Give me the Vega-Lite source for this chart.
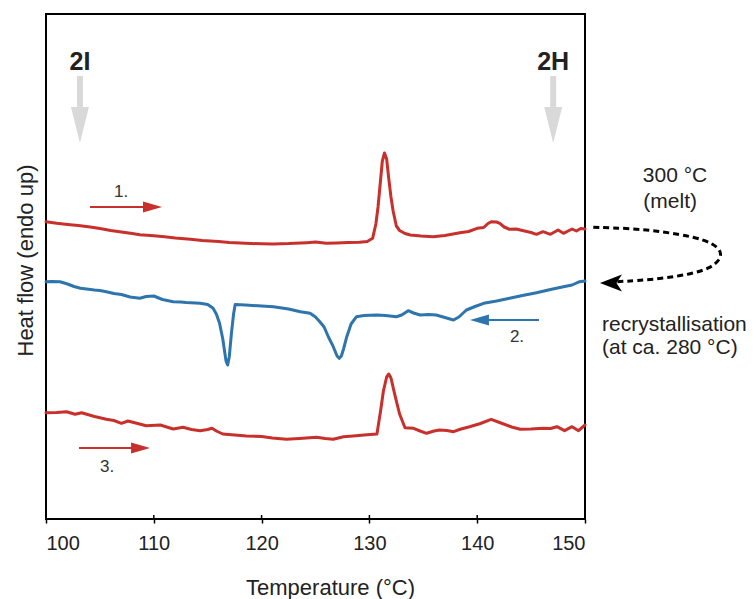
{
  "$schema": "https://vega.github.io/schema/vega-lite/v6.json",
  "autosize": "none",
  "width": 539,
  "height": 505,
  "padding": {"left": 46, "top": 14, "right": 168, "bottom": 80},
  "background": "white",
  "config": {
    "font": "Liberation Sans",
    "view": {"stroke": "#000", "strokeWidth": 2}
  },
  "datasets": {
    "curves": [
      {"s":"1","T":100,"v":297.3},{"s":"1","T":101,"v":295.8},{"s":"1","T":102,"v":294.6},{"s":"1","T":103,"v":293.5},{"s":"1","T":104.1,"v":292},{"s":"1","T":105,"v":290.5},{"s":"1","T":106,"v":288.5},{"s":"1","T":107,"v":287},{"s":"1","T":108,"v":285.5},{"s":"1","T":108.7,"v":284.3},{"s":"1","T":110,"v":283.2},{"s":"1","T":111,"v":282.2},{"s":"1","T":112,"v":281},{"s":"1","T":113.4,"v":279.7},{"s":"1","T":114.5,"v":278.6},{"s":"1","T":116,"v":277.5},{"s":"1","T":117,"v":276.6},{"s":"1","T":118,"v":276},{"s":"1","T":119,"v":275.5},{"s":"1","T":120,"v":275.2},{"s":"1","T":121.1,"v":275},{"s":"1","T":122.5,"v":275.4},{"s":"1","T":124.2,"v":276.3},{"s":"1","T":125,"v":276.9},{"s":"1","T":126,"v":275.7},{"s":"1","T":127,"v":276},{"s":"1","T":128,"v":276.4},{"s":"1","T":129.1,"v":276.7},{"s":"1","T":129.8,"v":277.5},{"s":"1","T":130.3,"v":280.7},{"s":"1","T":130.6,"v":295},{"s":"1","T":130.8,"v":312},{"s":"1","T":131.0,"v":335},{"s":"1","T":131.2,"v":358},{"s":"1","T":131.4,"v":366},{"s":"1","T":131.6,"v":360},{"s":"1","T":131.8,"v":340},{"s":"1","T":132.0,"v":322},{"s":"1","T":132.2,"v":308},{"s":"1","T":132.5,"v":293},{"s":"1","T":132.8,"v":288.5},{"s":"1","T":133.3,"v":285.5},{"s":"1","T":133.8,"v":284},{"s":"1","T":134.8,"v":283},{"s":"1","T":135.9,"v":282.3},{"s":"1","T":137,"v":283.5},{"s":"1","T":138.4,"v":286.3},{"s":"1","T":139.2,"v":287.5},{"s":"1","T":140,"v":290.7},{"s":"1","T":140.6,"v":291.5},{"s":"1","T":141.0,"v":295.5},{"s":"1","T":141.3,"v":297.3},{"s":"1","T":141.8,"v":297},{"s":"1","T":142.1,"v":295.7},{"s":"1","T":142.5,"v":292},{"s":"1","T":143,"v":289.7},{"s":"1","T":143.6,"v":290},{"s":"1","T":144.3,"v":288.3},{"s":"1","T":145,"v":286.5},{"s":"1","T":145.5,"v":284.7},{"s":"1","T":146.1,"v":287.3},{"s":"1","T":146.8,"v":284.7},{"s":"1","T":147.5,"v":289},{"s":"1","T":148,"v":285.7},{"s":"1","T":148.8,"v":290},{"s":"1","T":149.2,"v":288},{"s":"1","T":149.6,"v":290.5},{"s":"1","T":150,"v":290},
      {"s":"2","T":100,"v":237.3},{"s":"2","T":100.5,"v":237.5},{"s":"2","T":101.3,"v":237.3},{"s":"2","T":102,"v":235},{"s":"2","T":102.6,"v":232.5},{"s":"2","T":103.2,"v":230.7},{"s":"2","T":104.5,"v":229},{"s":"2","T":105,"v":228.5},{"s":"2","T":105.6,"v":227.3},{"s":"2","T":106.3,"v":225.5},{"s":"2","T":107,"v":224.5},{"s":"2","T":107.8,"v":222},{"s":"2","T":108.7,"v":220.7},{"s":"2","T":109.3,"v":222.5},{"s":"2","T":110,"v":223},{"s":"2","T":110.8,"v":219.5},{"s":"2","T":111.8,"v":217.3},{"s":"2","T":112.5,"v":217},{"s":"2","T":113,"v":216.5},{"s":"2","T":114.3,"v":215.7},{"s":"2","T":115,"v":214.5},{"s":"2","T":115.5,"v":210.7},{"s":"2","T":115.8,"v":205},{"s":"2","T":116.1,"v":195.7},{"s":"2","T":116.4,"v":180},{"s":"2","T":116.7,"v":158},{"s":"2","T":116.85,"v":154},{"s":"2","T":117.0,"v":162},{"s":"2","T":117.2,"v":185.7},{"s":"2","T":117.4,"v":205},{"s":"2","T":117.55,"v":214.5},{"s":"2","T":118.5,"v":214},{"s":"2","T":120,"v":213},{"s":"2","T":121.1,"v":212.3},{"s":"2","T":122.5,"v":210},{"s":"2","T":123.6,"v":207.3},{"s":"2","T":124.5,"v":205.7},{"s":"2","T":125.0,"v":202},{"s":"2","T":125.4,"v":197.3},{"s":"2","T":125.8,"v":192},{"s":"2","T":126.2,"v":182},{"s":"2","T":126.65,"v":172.3},{"s":"2","T":127.0,"v":163},{"s":"2","T":127.2,"v":160.7},{"s":"2","T":127.4,"v":163},{"s":"2","T":127.6,"v":170},{"s":"2","T":127.9,"v":182.3},{"s":"2","T":128.3,"v":195},{"s":"2","T":128.8,"v":202.3},{"s":"2","T":129.5,"v":203.5},{"s":"2","T":130.7,"v":204},{"s":"2","T":131.5,"v":203.5},{"s":"2","T":132.5,"v":202.3},{"s":"2","T":133.0,"v":204},{"s":"2","T":133.6,"v":208.3},{"s":"2","T":134.1,"v":206},{"s":"2","T":134.7,"v":204},{"s":"2","T":135.5,"v":204.5},{"s":"2","T":136.2,"v":204},{"s":"2","T":137.0,"v":201.5},{"s":"2","T":137.8,"v":199},{"s":"2","T":138.3,"v":202},{"s":"2","T":139.0,"v":209},{"s":"2","T":139.8,"v":212.5},{"s":"2","T":140.6,"v":215.7},{"s":"2","T":141.8,"v":218},{"s":"2","T":143,"v":220.7},{"s":"2","T":144.2,"v":223.5},{"s":"2","T":145.5,"v":226.3},{"s":"2","T":146.8,"v":229.5},{"s":"2","T":148,"v":232.3},{"s":"2","T":148.8,"v":234},{"s":"2","T":149.5,"v":237.3},{"s":"2","T":150,"v":238},
      {"s":"3","T":100,"v":106.3},{"s":"3","T":101,"v":106.5},{"s":"3","T":101.9,"v":107.3},{"s":"3","T":102.7,"v":104.7},{"s":"3","T":103.3,"v":106.3},{"s":"3","T":104.5,"v":102.5},{"s":"3","T":105.6,"v":99.7},{"s":"3","T":106.3,"v":98.5},{"s":"3","T":107.0,"v":95.7},{"s":"3","T":107.6,"v":98},{"s":"3","T":108.5,"v":95.5},{"s":"3","T":109.3,"v":93.3},{"s":"3","T":110.6,"v":94},{"s":"3","T":111.8,"v":90},{"s":"3","T":112.7,"v":91.7},{"s":"3","T":113.5,"v":89.5},{"s":"3","T":114.3,"v":88.3},{"s":"3","T":115,"v":89.5},{"s":"3","T":115.4,"v":90.7},{"s":"3","T":115.8,"v":88},{"s":"3","T":116.4,"v":85},{"s":"3","T":117.5,"v":84},{"s":"3","T":118.6,"v":83},{"s":"3","T":120,"v":82.5},{"s":"3","T":121,"v":81},{"s":"3","T":122.3,"v":79.7},{"s":"3","T":123.5,"v":80.5},{"s":"3","T":125.1,"v":81.7},{"s":"3","T":125.9,"v":80.5},{"s":"3","T":126.65,"v":79.7},{"s":"3","T":127.6,"v":82.3},{"s":"3","T":128.5,"v":83},{"s":"3","T":129.5,"v":84},{"s":"3","T":130.7,"v":85},{"s":"3","T":131.05,"v":109},{"s":"3","T":131.3,"v":128},{"s":"3","T":131.6,"v":142},{"s":"3","T":131.8,"v":145},{"s":"3","T":132.0,"v":141},{"s":"3","T":132.4,"v":122.3},{"s":"3","T":132.8,"v":105},{"s":"3","T":133.3,"v":91.3},{"s":"3","T":134.1,"v":90.7},{"s":"3","T":134.7,"v":88},{"s":"3","T":135.3,"v":85.7},{"s":"3","T":136.0,"v":88},{"s":"3","T":136.5,"v":89},{"s":"3","T":137.2,"v":88.5},{"s":"3","T":137.8,"v":87.3},{"s":"3","T":138.5,"v":90},{"s":"3","T":139.3,"v":92.3},{"s":"3","T":140.3,"v":95.5},{"s":"3","T":141.3,"v":99.7},{"s":"3","T":142.2,"v":96},{"s":"3","T":143.2,"v":92},{"s":"3","T":144.0,"v":89.7},{"s":"3","T":145,"v":90},{"s":"3","T":146.1,"v":90.7},{"s":"3","T":146.8,"v":90.5},{"s":"3","T":147.4,"v":92.3},{"s":"3","T":148.1,"v":88.3},{"s":"3","T":148.8,"v":92.3},{"s":"3","T":149.4,"v":88.3},{"s":"3","T":150,"v":94}
    ],
    "grey": [
      {"label":"2I","T":103.15,"top":443,"bot":411,"head":394,"txt":449},
      {"label":"2H","T":147.05,"top":443,"bot":411,"head":394,"txt":449}
    ],
    "steps": [
      {"s":"1","label":"1.","T1":104.08,"T2":109.2,"Th":109.88,"v":312,"Tl":106.96,"vl":327},
      {"s":"2","label":"2.","T1":145.73,"T2":140.9,"Th":140.21,"v":199,"Tl":143.69,"vl":182},
      {"s":"3","label":"3.","T1":103.06,"T2":108.2,"Th":108.77,"v":71,"Tl":105.66,"vl":52}
    ],
    "melt": [
      {"label":"300 °C","T":158.35,"v":343},
      {"label":"(melt)","T":157.9,"v":317}
    ],
    "recr": [
      {"label":"recrystallisation","T":151.58,"v":194},
      {"label":"(at ca. 280 °C)","T":151.58,"v":171}
    ],
    "loop": [
      {"i":0,"T":150.77,"v":291.7},{"i":1,"T":154.17,"v":290.7},{"i":2,"T":157.26,"v":287.3},{"i":3,"T":160.05,"v":282.3},{"i":4,"T":161.9,"v":275.7},{"i":5,"T":162.68,"v":267.3},{"i":6,"T":162.52,"v":259},{"i":7,"T":161.6,"v":250.7},{"i":8,"T":159.74,"v":244.7},{"i":9,"T":157.26,"v":240.7},{"i":10,"T":154.8,"v":238.3},{"i":11,"T":152.94,"v":237.3}
    ],
    "loophead": [{"T":152.41,"v":236}],
    "innerticks": [{"T":110},{"T":120},{"T":130},{"T":140}]
  },
  "encoding": {
    "x": {
      "type": "quantitative",
      "scale": {"domain": [100, 150], "nice": false, "zero": false},
      "axis": {
        "title": "Temperature (°C)",
        "values": [100, 110, 120, 130, 140, 150],
        "grid": false,
        "domain": false,
        "ticks": true,
        "tickSize": 4,
        "tickWidth": 1.5,
        "tickColor": "#000",
        "labelFontSize": 20,
        "labelColor": "#222",
        "labelPadding": 10,
        "labelFont": "Liberation Sans",
        "titleFont": "Liberation Sans",
        "titleFontSize": 22,
        "titleFontWeight": "normal",
        "titleColor": "#222",
        "titleX": 284,
        "titleY": 75,
        "titleAlign": "center",
        "titleBaseline": "alphabetic"
      }
    },
    "y": {
      "type": "quantitative",
      "scale": {"domain": [0, 505], "nice": false, "zero": false},
      "axis": {
        "title": "Heat flow (endo up)",
        "grid": false,
        "domain": false,
        "ticks": false,
        "labels": false,
        "titleFont": "Liberation Sans",
        "titleFontSize": 22,
        "titleFontWeight": "normal",
        "titleColor": "#222",
        "titleAngle": -90,
        "titleX": -14,
        "titleY": 246,
        "titleAlign": "center",
        "titleBaseline": "alphabetic"
      }
    }
  },
  "layer": [
    {
      "data": {"name": "innerticks"},
      "mark": {"type": "rule", "strokeWidth": 1.5, "color": "#000"},
      "encoding": {"x": {"field": "T"}, "y": {"datum": 0}, "y2": {"datum": 4}}
    },
    {
      "data": {"name": "curves"},
      "mark": {"type": "line", "strokeWidth": 3, "interpolate": "linear", "strokeJoin": "round", "strokeCap": "round"},
      "encoding": {
        "x": {"field": "T"},
        "y": {"field": "v"},
        "color": {"field": "s", "type": "nominal", "scale": {"domain": ["1", "2", "3"], "range": ["#c8302c", "#2e75ad", "#c8302c"]}, "legend": null},
        "detail": {"field": "s"}
      }
    },
    {
      "data": {"name": "grey"},
      "mark": {"type": "rule", "strokeWidth": 6, "color": "#d9d9d9", "strokeCap": "butt"},
      "encoding": {"x": {"field": "T"}, "y": {"field": "top"}, "y2": {"field": "bot"}}
    },
    {
      "data": {"name": "grey"},
      "mark": {"type": "point", "filled": true, "opacity": 1, "color": "#d9d9d9", "strokeWidth": 0, "shape": "M-0.5,-1L0.5,-1L0,1Z", "size": 1296},
      "encoding": {"x": {"field": "T"}, "y": {"field": "head"}}
    },
    {
      "data": {"name": "grey"},
      "mark": {"type": "text", "fontSize": 25, "fontWeight": "bold", "color": "#222", "align": "center", "baseline": "alphabetic", "font": "Liberation Sans"},
      "encoding": {"x": {"field": "T"}, "y": {"field": "txt"}, "text": {"field": "label"}}
    },
    {
      "data": {"name": "steps"},
      "mark": {"type": "rule", "strokeWidth": 2.2},
      "encoding": {
        "x": {"field": "T1"}, "x2": {"field": "T2"}, "y": {"field": "v"},
        "color": {"field": "s", "type": "nominal", "legend": null}
      }
    },
    {
      "data": {"name": "steps"},
      "mark": {"type": "point", "filled": true, "opacity": 1, "strokeWidth": 0, "size": 361},
      "encoding": {
        "x": {"field": "Th"}, "y": {"field": "v"},
        "color": {"field": "s", "type": "nominal", "legend": null},
        "shape": {"field": "s", "type": "nominal", "scale": {"domain": ["1", "2", "3"], "range": ["M-1,-0.58L1,0L-1,0.58Z", "M1,-0.58L-1,0L1,0.58Z", "M-1,-0.58L1,0L-1,0.58Z"]}, "legend": null}
      }
    },
    {
      "data": {"name": "steps"},
      "mark": {"type": "text", "fontSize": 17, "color": "#333", "align": "center", "baseline": "middle", "font": "Liberation Sans"},
      "encoding": {"x": {"field": "Tl"}, "y": {"field": "vl"}, "text": {"field": "label"}}
    },
    {
      "data": {"name": "melt"},
      "mark": {"type": "text", "fontSize": 21, "color": "#222", "align": "center", "baseline": "middle", "font": "Liberation Sans"},
      "encoding": {"x": {"field": "T"}, "y": {"field": "v"}, "text": {"field": "label"}}
    },
    {
      "data": {"name": "recr"},
      "mark": {"type": "text", "fontSize": 21, "color": "#222", "align": "left", "baseline": "middle", "font": "Liberation Sans"},
      "encoding": {"x": {"field": "T"}, "y": {"field": "v"}, "text": {"field": "label"}}
    },
    {
      "data": {"name": "loop"},
      "mark": {"type": "line", "color": "#000", "strokeWidth": 3, "strokeDash": [6, 4], "interpolate": "basis"},
      "encoding": {"x": {"field": "T"}, "y": {"field": "v"}, "order": {"field": "i"}}
    },
    {
      "data": {"name": "loophead"},
      "mark": {"type": "point", "filled": true, "opacity": 1, "color": "#000", "strokeWidth": 0, "shape": "M1,-0.77L-1,0L1,0.77L0.5,0Z", "size": 484},
      "encoding": {"x": {"field": "T"}, "y": {"field": "v"}}
    }
  ]
}
